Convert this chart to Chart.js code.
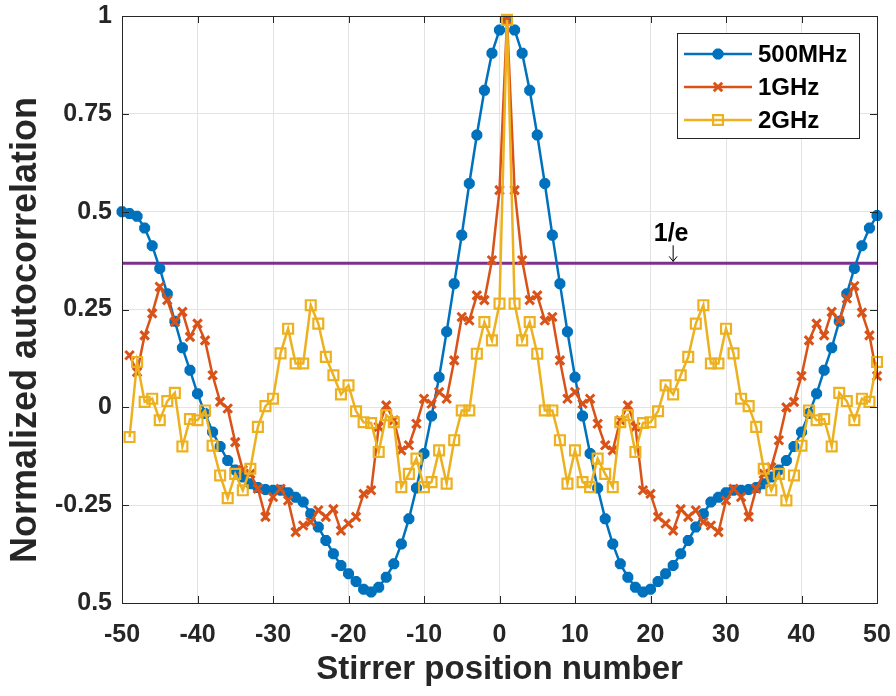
<!DOCTYPE html>
<html>
<head>
<meta charset="utf-8">
<script src="https://cdn.jsdelivr.net/npm/chart.js@4.4.1/dist/chart.umd.min.js"></script>
<style>
html, body { margin: 0; padding: 0; background: #ffffff; }
#wrap { width: 896px; height: 696px; }
</style>
</head>
<body>
<div id="wrap"><canvas id="canvas-autocorr" width="896" height="696"></canvas></div>
<script>
// stirrer positions (x axis)
const positions = [-50, -49, -48, -47, -46, -45, -44, -43, -42, -41,
    -40, -39, -38, -37, -36, -35, -34, -33, -32, -31,
    -30, -29, -28, -27, -26, -25, -24, -23, -22, -21,
    -20, -19, -18, -17, -16, -15, -14, -13, -12, -11,
    -10, -9, -8, -7, -6, -5, -4, -3, -2, -1,
    0, 1, 2, 3, 4, 5, 6, 7, 8, 9,
    10, 11, 12, 13, 14, 15, 16, 17, 18, 19,
    20, 21, 22, 23, 24, 25, 26, 27, 28, 29,
    30, 31, 32, 33, 34, 35, 36, 37, 38, 39,
    40, 41, 42, 43, 44, 45, 46, 47, 48, 49,
    50];

const blue500MHz = [0.50, 0.495, 0.488, 0.458, 0.413, 0.355, 0.29, 0.22, 0.152, 0.095,
    0.035, -0.016, -0.063, -0.10, -0.136, -0.16, -0.178, -0.195, -0.205, -0.21,
    -0.212, -0.212, -0.218, -0.23, -0.242, -0.272, -0.306, -0.34, -0.374, -0.404,
    -0.425, -0.445, -0.465, -0.472, -0.46, -0.434, -0.40, -0.349, -0.285, -0.206,
    -0.118, -0.022, 0.077, 0.193, 0.316, 0.44, 0.572, 0.696, 0.81, 0.905,
    0.964, 0.99, 0.964, 0.905, 0.81, 0.696, 0.572, 0.44, 0.316, 0.193,
    0.077, -0.022, -0.118, -0.206, -0.285, -0.349, -0.40, -0.434, -0.46, -0.472,
    -0.465, -0.445, -0.425, -0.404, -0.374, -0.34, -0.306, -0.272, -0.242, -0.23,
    -0.218, -0.212, -0.212, -0.21, -0.205, -0.195, -0.178, -0.16, -0.136, -0.10,
    -0.063, -0.016, 0.035, 0.095, 0.152, 0.22, 0.29, 0.355, 0.413, 0.458,
    0.49];

const orange1GHz = [null, 0.133, 0.09, 0.184, 0.24, 0.308, 0.274, 0.218, 0.244, 0.18,
    0.214, 0.171, 0.082, 0.014, -0.003, -0.089, -0.16, -0.17, -0.208, -0.28,
    -0.229, -0.208, -0.238, -0.319, -0.302, -0.293, -0.263, -0.28, -0.26, -0.315,
    -0.297, -0.28, -0.221, -0.212, -0.05, 0.005, -0.033, -0.11, -0.097, -0.042,
    0.022, 0.009, 0.039, 0.022, 0.12, 0.231, 0.222, 0.286, 0.274, 0.376,
    0.555, 0.99, 0.555, 0.376, 0.274, 0.286, 0.222, 0.231, 0.12, 0.022,
    0.039, 0.009, 0.022, -0.042, -0.097, -0.11, -0.033, 0.005, -0.05, -0.212,
    -0.221, -0.28, -0.297, -0.315, -0.26, -0.28, -0.263, -0.293, -0.302, -0.319,
    -0.238, -0.208, -0.229, -0.28, -0.208, -0.17, -0.153, -0.084, 0.0, 0.014,
    0.08, 0.171, 0.214, 0.184, 0.244, 0.222, 0.278, 0.31, 0.242, 0.184,
    0.08];

const yellow2GHz = [null, -0.076, 0.116, 0.014, 0.022, -0.033, 0.016, 0.037, -0.10, -0.03,
    -0.033, -0.008, -0.098, -0.174, -0.232, -0.17, -0.212, -0.157, -0.05, 0.003,
    0.022, 0.138, 0.201, 0.112, 0.112, 0.261, 0.214, 0.129, 0.082, 0.033,
    0.056, -0.01, -0.038, -0.04, -0.114, -0.02, -0.038, -0.204, -0.17, -0.131,
    -0.204, -0.191, -0.11, -0.195, -0.084, -0.008, -0.008, 0.137, 0.218, 0.171,
    0.265, 0.99, 0.265, 0.171, 0.218, 0.137, -0.008, -0.008, -0.084, -0.195,
    -0.11, -0.191, -0.204, -0.131, -0.17, -0.204, -0.038, -0.02, -0.114, -0.04,
    -0.038, -0.01, 0.056, 0.033, 0.082, 0.129, 0.214, 0.261, 0.112, 0.112,
    0.201, 0.138, 0.022, 0.003, -0.05, -0.157, -0.212, -0.17, -0.238, -0.174,
    -0.098, -0.008, -0.033, -0.03, -0.10, 0.037, 0.016, -0.033, 0.022, 0.014,
    0.116];

const thresholdX = [-50, 50];
const thresholdY = [0.3679, 0.3679];

const yTickLabels = ['0.5', '-0.25', '0', '0.25', '0.5', '0.75', '1'];

const seriesNames = ['500MHz', '1GHz', '2GHz'];

const BLUE = '#0072BD';
const ORANGE = '#D95319';
const YELLOW = '#EDB120';
const PURPLE = '#7E2F8E';
const AXIS = '#262626';
const FONT = '"Liberation Sans", Arial, Helvetica, sans-serif';

function toPoints(xs, ys) {
    const pts = [];
    for (let i = 0; i < xs.length; i++) {
        if (ys[i] !== null) pts.push({ x: xs[i], y: ys[i] });
    }
    return pts;
}

// box, inner ticks, y label, 1/e note and legend, MATLAB style
const framePlugin = {
    id: 'frame',
    afterDraw(chart) {
        const ctx = chart.ctx;
        const a = chart.chartArea;
        const xs = chart.scales.x;
        const ys = chart.scales.y;

        ctx.save();
        ctx.strokeStyle = AXIS;
        ctx.lineWidth = 1;
        ctx.beginPath();
        xs.ticks.forEach(t => {
            const px = Math.round(xs.getPixelForValue(t.value)) + 0.5;
            ctx.moveTo(px, a.bottom); ctx.lineTo(px, a.bottom - 7);
            ctx.moveTo(px, a.top); ctx.lineTo(px, a.top + 7);
        });
        ys.ticks.forEach(t => {
            const py = Math.round(ys.getPixelForValue(t.value)) + 0.5;
            ctx.moveTo(a.left, py); ctx.lineTo(a.left + 7, py);
            ctx.moveTo(a.right, py); ctx.lineTo(a.right - 7, py);
        });
        ctx.stroke();
        ctx.strokeRect(Math.round(a.left) + 0.5, Math.round(a.top) + 0.5,
            Math.round(a.right - a.left), Math.round(a.bottom - a.top));

        // y axis title
        ctx.save();
        ctx.translate(26, 330);
        ctx.rotate(-Math.PI / 2);
        ctx.fillStyle = '#262626';
        ctx.font = 'bold 36px ' + FONT;
        ctx.textAlign = 'center';
        ctx.textBaseline = 'middle';
        ctx.fillText('Normalized autocorrelation', 0, 0);
        ctx.restore();

        // 1/e note with arrow
        const ax = xs.getPixelForValue(23);
        const ty = ys.getPixelForValue(0.442);
        ctx.fillStyle = '#000';
        ctx.font = 'bold 25px ' + FONT;
        ctx.textAlign = 'center';
        ctx.textBaseline = 'middle';
        ctx.fillText('1/e', ax - 2, ty);
        const y0 = ys.getPixelForValue(0.414);
        const y1 = ys.getPixelForValue(thresholdY[0]) - 2;
        ctx.strokeStyle = '#000';
        ctx.beginPath();
        ctx.moveTo(ax, y0); ctx.lineTo(ax, y1);
        ctx.moveTo(ax - 4, y1 - 5); ctx.lineTo(ax, y1); ctx.lineTo(ax + 4, y1 - 5);
        ctx.stroke();

        // legend
        const bx = a.right - 200, by = a.top + 17, bw = 182, bh = 105;
        ctx.fillStyle = '#fff';
        ctx.fillRect(bx, by, bw, bh);
        ctx.strokeStyle = AXIS;
        ctx.strokeRect(Math.round(bx) + 0.5, Math.round(by) + 0.5, bw, bh);
        const rows = [by + 21, by + 54, by + 87];
        chart.data.datasets.slice(0, 3).forEach((ds, i) => {
            const ry = rows[i];
            ctx.strokeStyle = ds.borderColor;
            ctx.lineWidth = 2.5;
            ctx.beginPath();
            ctx.moveTo(bx + 7, ry); ctx.lineTo(bx + 75, ry);
            ctx.stroke();
            ctx.fillStyle = ds.pointBackgroundColor || ds.borderColor;
            ctx.strokeStyle = ds.borderColor;
            ctx.lineWidth = ds.pointBorderWidth;
            if (Chart.helpers && Chart.helpers.drawPoint) {
                Chart.helpers.drawPoint(ctx, {
                    pointStyle: ds.pointStyle, radius: ds.pointRadius,
                    borderWidth: ds.pointBorderWidth, rotation: 0
                }, bx + 41, ry);
            }
            ctx.fillStyle = '#000';
            ctx.font = 'bold 24px ' + FONT;
            ctx.textAlign = 'left';
            ctx.textBaseline = 'middle';
            ctx.fillText(seriesNames[i], bx + 81, ry + 1);
        });
        ctx.restore();
    }
};

const canvas = document.getElementById('canvas-autocorr');
const ctx = canvas.getContext('2d');

new Chart(ctx, {
    type: 'line',
    data: {
        datasets: [{
            label: seriesNames[0],
            data: toPoints(positions, blue500MHz),
            borderColor: BLUE,
            backgroundColor: BLUE,
            pointBackgroundColor: BLUE,
            borderWidth: 2.5,
            pointStyle: 'star',
            pointRadius: 5.5,
            pointBorderWidth: 4,
            order: 2
        }, {
            label: seriesNames[1],
            data: toPoints(positions, orange1GHz),
            borderColor: ORANGE,
            backgroundColor: ORANGE,
            pointBackgroundColor: ORANGE,
            borderWidth: 2.5,
            pointStyle: 'crossRot',
            pointRadius: 6,
            pointBorderWidth: 3,
            order: 1
        }, {
            label: seriesNames[2],
            data: toPoints(positions, yellow2GHz),
            borderColor: YELLOW,
            backgroundColor: YELLOW,
            pointBackgroundColor: 'rgba(255,255,255,0)',
            borderWidth: 2.5,
            pointStyle: 'rect',
            pointRadius: 7,
            pointBorderWidth: 2.2,
            order: 0
        }, {
            label: '1/e',
            data: toPoints(thresholdX, thresholdY),
            borderColor: PURPLE,
            borderWidth: 3,
            pointRadius: 0,
            order: 3
        }]
    },
    options: {
        responsive: false,
        animation: false,
        clip: false,
        layout: { padding: { top: 16, right: 19, left: 0, bottom: 0 } },
        plugins: {
            legend: { display: false },
            tooltip: { enabled: false }
        },
        scales: {
            x: {
                type: 'linear',
                min: -50,
                max: 50,
                ticks: {
                    stepSize: 10,
                    color: '#262626',
                    padding: 17,
                    font: { family: FONT, size: 25, weight: 'bold' }
                },
                grid: { color: '#e3e3e3', lineWidth: 1, drawTicks: false },
                border: { display: true, color: AXIS, width: 1 },
                title: {
                    display: true,
                    text: 'Stirrer position number',
                    color: '#262626',
                    font: { family: FONT, size: 33, weight: 'bold' },
                    padding: { top: 4, bottom: 6 }
                },
                afterFit(scale) {
                    scale.height = 93;
                    scale.paddingLeft = 0;
                    scale.paddingRight = 0;
                }
            },
            y: {
                min: -0.5,
                max: 1,
                ticks: {
                    stepSize: 0.25,
                    color: '#262626',
                    padding: 10,
                    font: { family: FONT, size: 25, weight: 'bold' },
                    callback: (value, index) => yTickLabels[index]
                },
                grid: { color: '#e3e3e3', lineWidth: 1, drawTicks: false },
                border: { display: true, color: AXIS, width: 1 },
                title: { display: false },
                afterFit(scale) {
                    scale.width = 122;
                    scale.paddingTop = 0;
                    scale.paddingBottom = 0;
                }
            }
        }
    },
    plugins: [framePlugin]
});
</script>
</body>
</html>
